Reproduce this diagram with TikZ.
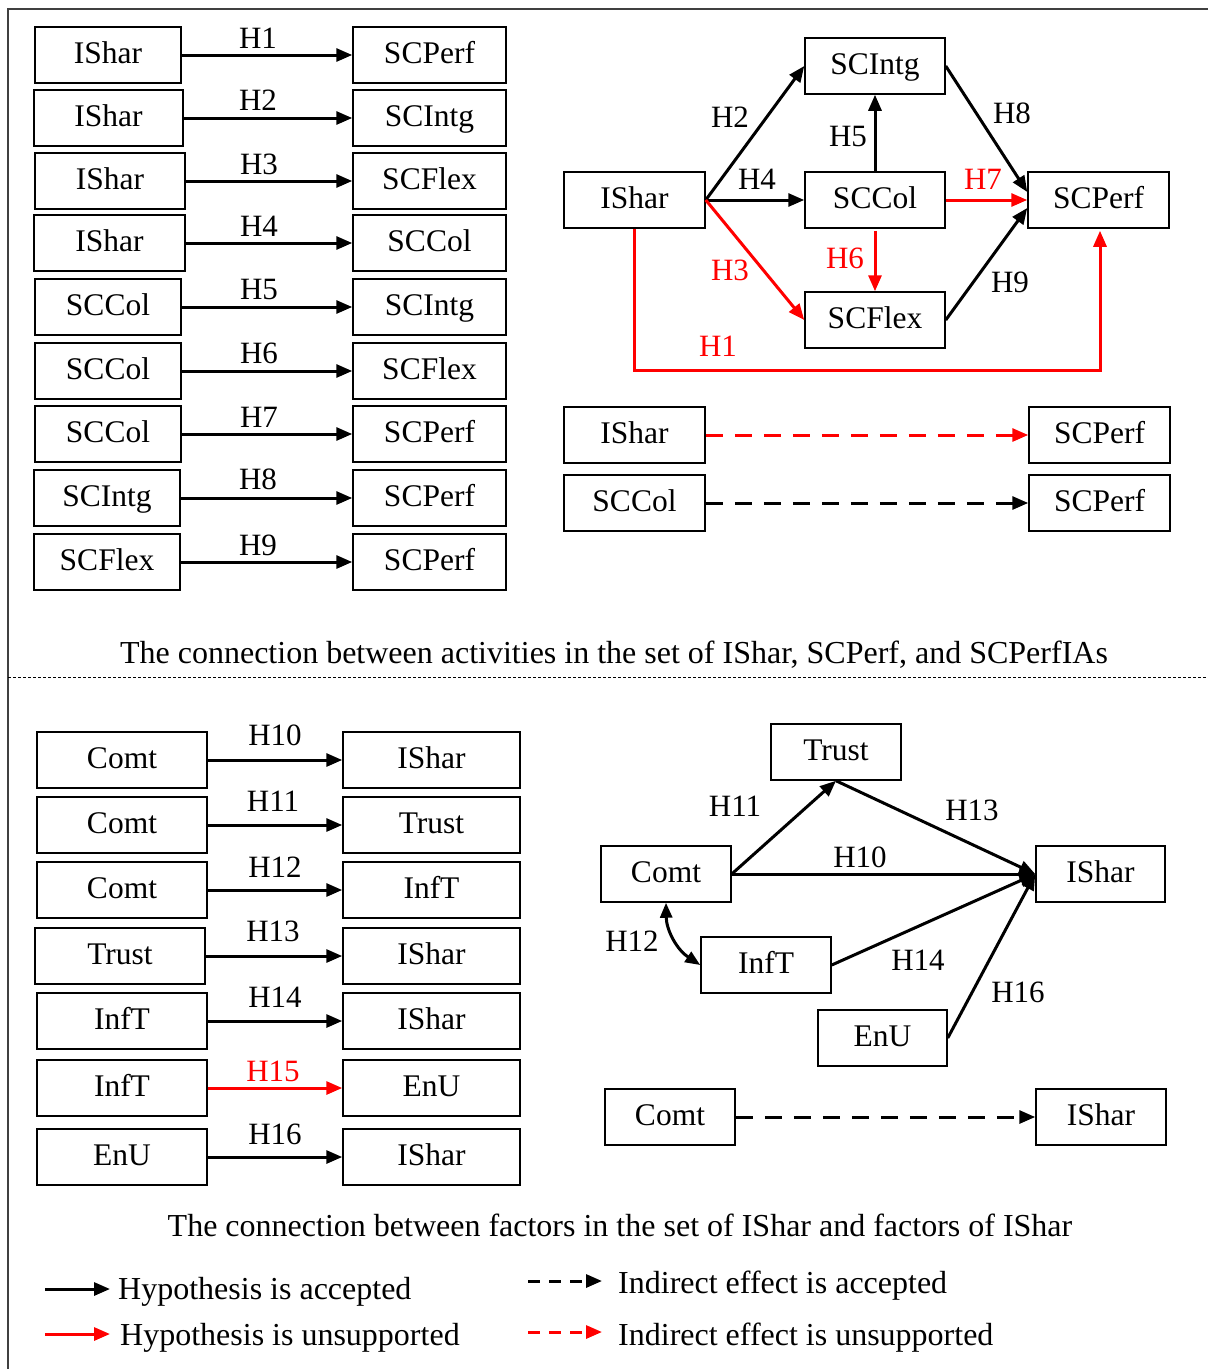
\documentclass[tikz,border=0pt]{standalone}
\usepackage{fontspec}
\setmainfont{Liberation Serif}
\usetikzlibrary{arrows.meta,calc}
\begin{document}
\begin{tikzpicture}[x=1pt,y=-1pt,
  bx/.style={draw,line width=1.5pt,minimum height=56pt,inner sep=0pt,text height=22pt,text depth=6pt,font=\fontsize{31.5}{31.5}\selectfont},
  lab/.style={inner sep=0pt,font=\fontsize{31}{31}\selectfont},
  captxt/.style={inner sep=0pt,font=\fontsize{32}{32}\selectfont},
  arr/.style={line width=3pt,-{Triangle[length=16pt,width=13pt]}},
  darr/.style={arr,dash pattern=on 17pt off 12pt},
  frm/.style={draw=black!75,line width=1.5pt}
]
\useasboundingbox (0,0) rectangle (1208,1369);
% frame
\coordinate (f0) at (8,9);
\coordinate (f1) at (1208,9);
\coordinate (f2) at (8,1369);
\coordinate (s0) at (8,677);
\coordinate (s1) at (1208,677);
\draw[frm] (f1) -- (f0) -- (f2);
\draw[line width=0.7pt,dash pattern=on 3pt off 2pt] (s0) -- (s1);

% ---------- top left ----------
\node[bx,minimum width=146pt] (L1) at (108,55) {IShar};
\node[bx,minimum width=153pt] (R1) at (429.5,55) {SCPerf};
\node[bx,minimum width=149pt] (L2) at (108.5,118) {IShar};
\node[bx,minimum width=153pt] (R2) at (429.5,118) {SCIntg};
\node[bx,minimum width=150pt] (L3) at (110,181) {IShar};
\node[bx,minimum width=153pt] (R3) at (429.5,181) {SCFlex};
\node[bx,minimum width=151pt] (L4) at (109.5,243) {IShar};
\node[bx,minimum width=153pt] (R4) at (429.5,243) {SCCol};
\node[bx,minimum width=146pt] (L5) at (108,307) {SCCol};
\node[bx,minimum width=153pt] (R5) at (429.5,307) {SCIntg};
\node[bx,minimum width=146pt] (L6) at (108,371) {SCCol};
\node[bx,minimum width=153pt] (R6) at (429.5,371) {SCFlex};
\node[bx,minimum width=146pt] (L7) at (108,434) {SCCol};
\node[bx,minimum width=153pt] (R7) at (429.5,434) {SCPerf};
\node[bx,minimum width=146pt] (L8) at (107,498) {SCIntg};
\node[bx,minimum width=153pt] (R8) at (429.5,498) {SCPerf};
\node[bx,minimum width=146pt] (L9) at (107,562) {SCFlex};
\node[bx,minimum width=153pt] (R9) at (429.5,562) {SCPerf};
\foreach \i in {1,...,9} {\draw[arr] (L\i.east) -- (R\i.west);}
\node[lab] (t1) at (258,38) {H1};
\node[lab] (t2) at (258,100) {H2};
\node[lab] (t3) at (259,164) {H3};
\node[lab] (t4) at (259,226) {H4};
\node[lab] (t5) at (259,289) {H5};
\node[lab] (t6) at (259,353) {H6};
\node[lab] (t7) at (259,417) {H7};
\node[lab] (t8) at (258,479) {H8};
\node[lab] (t9) at (258,545) {H9};

% ---------- top right ----------
\node[bx,minimum width=140pt] (Intg) at (875,66) {SCIntg};
\node[bx,minimum width=141pt] (Shar) at (634.5,200) {IShar};
\node[bx,minimum width=140pt] (Col) at (875,200) {SCCol};
\node[bx,minimum width=141pt] (Perf) at (1098.5,200) {SCPerf};
\node[bx,minimum width=140pt] (Flex) at (875,320) {SCFlex};
\draw[arr] (Shar.east) -- (Intg.west);
\draw[arr] (Shar.east) -- (Col.west);
\draw[arr,red] (Shar.east) -- (Flex.west);
\draw[arr] (Col.north) -- (Intg.south);
\draw[arr,red] ($(Col.south)+(0,2)$) -- (Flex.north);
\draw[arr,red] (Col.east) -- (Perf.west);
\draw[arr] (Intg.east) -- ($(Perf.west)+(0,-8)$);
\draw[arr] (Flex.east) -- ($(Perf.west)+(0,8)$);
\draw[arr,red] (Shar.south) -- ++(0,142) -| ($(Perf.south)+(1.5,2)$);
\node[lab] (a2) at (730,117) {H2};
\node[lab] (a4) at (757,179) {H4};
\node[lab] (a5) at (848,136) {H5};
\node[lab,red] (a7) at (983,179) {H7};
\node[lab] (a8) at (1012,113) {H8};
\node[lab,red] (a3) at (730,270) {H3};
\node[lab,red] (a6) at (845,258) {H6};
\node[lab] (a9) at (1010,282) {H9};
\node[lab,red] (a1) at (718,346) {H1};

\node[bx,minimum width=141pt] (Shar2) at (634.5,435) {IShar};
\node[bx,minimum width=141pt] (Perf2) at (1099.5,435) {SCPerf};
\node[bx,minimum width=141pt] (Col3) at (634.5,503) {SCCol};
\node[bx,minimum width=141pt] (Perf3) at (1099.5,503) {SCPerf};
\draw[darr,red] (Shar2.east) -- (Perf2.west);
\draw[darr] (Col3.east) -- (Perf3.west);

\node[captxt] (cap1) at (614,655) {The connection between activities in the set of IShar, SCPerf, and SCPerfIAs};

% ---------- bottom left ----------
\node[bx,minimum width=170pt] (B1) at (122,760) {Comt};
\node[bx,minimum width=177pt] (C1) at (431.5,760) {IShar};
\node[bx,minimum width=170pt] (B2) at (122,825) {Comt};
\node[bx,minimum width=177pt] (C2) at (431.5,825) {Trust};
\node[bx,minimum width=170pt] (B3) at (122,890) {Comt};
\node[bx,minimum width=177pt] (C3) at (431.5,890) {InfT};
\node[bx,minimum width=170pt] (B4) at (120,956) {Trust};
\node[bx,minimum width=177pt] (C4) at (431.5,956) {IShar};
\node[bx,minimum width=170pt] (B5) at (122,1021) {InfT};
\node[bx,minimum width=177pt] (C5) at (431.5,1021) {IShar};
\node[bx,minimum width=170pt] (B6) at (122,1088) {InfT};
\node[bx,minimum width=177pt] (C6) at (431.5,1088) {EnU};
\node[bx,minimum width=170pt] (B7) at (122,1157) {EnU};
\node[bx,minimum width=177pt] (C7) at (431.5,1157) {IShar};
\foreach \i in {1,2,3,4,5,7} {\draw[arr] (B\i.east) -- (C\i.west);}
\draw[arr,red] (B6.east) -- (C6.west);
\node[lab] (u10) at (275,735) {H10};
\node[lab] (u11) at (273,801) {H11};
\node[lab] (u12) at (275,867) {H12};
\node[lab] (u13) at (273,931) {H13};
\node[lab] (u14) at (275,997) {H14};
\node[lab,red] (u15) at (273,1071) {H15};
\node[lab] (u16) at (275,1134) {H16};

% ---------- bottom right ----------
\node[bx,minimum width=130pt] (Tr) at (836,752) {Trust};
\node[bx,minimum width=130pt] (Co) at (666,874) {Comt};
\node[bx,minimum width=129pt] (IS) at (1100.5,874) {IShar};
\node[bx,minimum width=130pt] (In) at (766,965) {InfT};
\node[bx,minimum width=129pt] (En) at (882.5,1038) {EnU};
\draw[arr] (Co.east) -- (Tr.south);
\draw[arr] (Tr.south) -- (IS.west);
\draw[arr] (Co.east) -- (IS.west);
\draw[arr] (In.east) -- (IS.west);
\draw[arr] (En.east) -- (IS.west);
\draw[line width=3pt,{Triangle[length=15pt,width=12pt]}-{Triangle[length=15pt,width=12pt]}] (Co.south) to[bend right=28] (In.west);
\node[lab] (v11) at (735,806) {H11};
\node[lab] (v13) at (972,810) {H13};
\node[lab] (v10) at (860,857) {H10};
\node[lab] (v12) at (632,941) {H12};
\node[lab] (v14) at (918,960) {H14};
\node[lab] (v16) at (1018,992) {H16};

\node[bx,minimum width=130pt] (Co2) at (670,1117) {Comt};
\node[bx,minimum width=130pt] (IS2) at (1101,1117) {IShar};
\draw[darr] (Co2.east) -- (IS2.west);

\node[captxt] (cap2) at (620,1225) {The connection between factors in the set of IShar and factors of IShar};

% ---------- legend ----------
\coordinate (la0) at (45,1289); \coordinate (la1) at (110,1289);
\coordinate (lb0) at (45,1334); \coordinate (lb1) at (110,1334);
\coordinate (lc0) at (528,1281); \coordinate (lc1) at (602,1281);
\coordinate (ld0) at (528,1332); \coordinate (ld1) at (602,1332);
\draw[arr] (la0) -- (la1);
\draw[arr,red] (lb0) -- (lb1);
\draw[arr,dash pattern=on 12pt off 9pt] (lc0) -- (lc1);
\draw[arr,red,dash pattern=on 12pt off 9pt] (ld0) -- (ld1);
\node[captxt,anchor=west] (lt1) at (118,1292) {Hypothesis is accepted};
\node[captxt,anchor=west] (lt2) at (120,1338) {Hypothesis is unsupported};
\node[captxt,anchor=west] (lt3) at (618,1286) {Indirect effect is accepted};
\node[captxt,anchor=west] (lt4) at (618,1338) {Indirect effect is unsupported};
\end{tikzpicture}
\end{document}
